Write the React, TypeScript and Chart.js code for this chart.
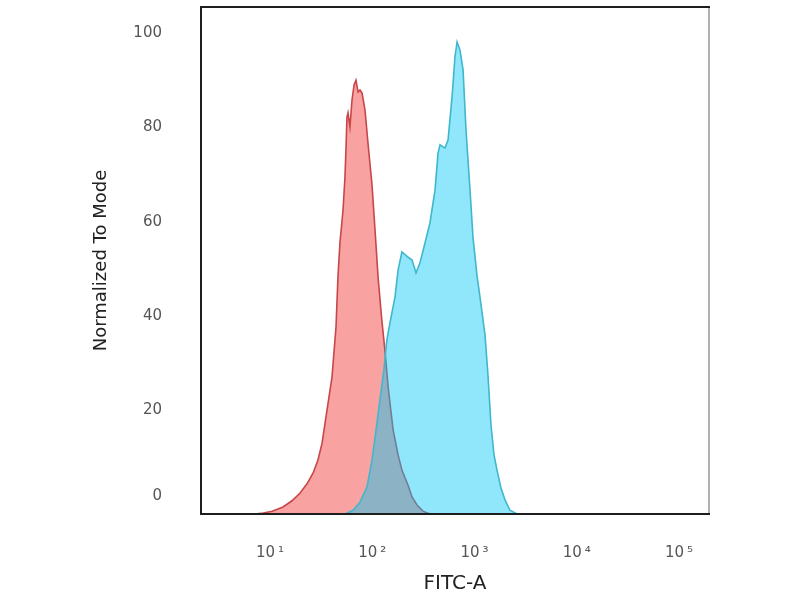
import { useEffect, useRef } from 'react'
import { Chart, registerables } from 'chart.js'

Chart.register(...registerables)

// FITC-A channel (log axis) and normalized-to-mode counts
const isotypeFitc = [7.1, 8.6, 10.5, 13.4, 16.4, 19.6, 23.0, 26.4, 29.4, 32.3, 36.1, 40.4, 44.2, 46.2, 48.3, 51.8, 54.1, 55.3, 56.6, 57.9, 60.5, 63.4, 66.4, 69.3, 72.6, 75.9, 79.4, 84.9, 90.8, 99.5, 106, 114, 124, 133, 143, 160, 179, 195, 224, 245, 274, 313, 367]
const isotypeCount = [0, 0.2, 0.6, 1.5, 2.8, 4.4, 6.4, 8.7, 11.4, 15.0, 22.0, 29.0, 39.6, 50.2, 57.4, 64.4, 71.4, 77.1, 84.1, 85.0, 82.0, 87.7, 90.9, 91.9, 89.4, 89.8, 89.2, 85.6, 78.6, 69.7, 60.8, 50.2, 41.1, 34.7, 26.9, 17.8, 12.5, 9.3, 6.1, 3.6, 1.9, 0.6, 0]

const stainedFitc = [54.1, 64.9, 75.9, 88.9, 99.5, 109, 119, 130, 139, 149, 167, 179, 195, 224, 245, 268, 293, 328, 367, 411, 440, 460, 514, 551, 603, 644, 675, 721, 773, 826, 904, 966, 1057, 1159, 1268, 1355, 1449, 1552, 1660, 1816, 1986, 2223, 2606]
const stainedCount = [0, 0.8, 2.5, 5.7, 11.4, 17.8, 24.2, 30.5, 36.9, 40.5, 46.0, 51.7, 55.5, 54.4, 53.8, 51.1, 53.2, 57.4, 61.7, 68.6, 76.5, 78.2, 77.5, 79.2, 88.3, 96.8, 100, 98.3, 94.1, 81.4, 68.6, 58.7, 50.6, 44.3, 37.9, 29.4, 18.9, 12.5, 9.3, 5.5, 3.0, 0.8, 0]

const xTickValues = [10, 100, 1000, 10000, 100000]
const xTickLabels = ['10\u2009¹', '10\u2009²', '10\u2009³', '10\u2009⁴', '10\u2009⁵']
const yTickValues = [0, 20, 40, 60, 80, 100]

const FONT = '"DejaVu Sans", sans-serif'

// box round the plot area: dark on three sides, light grey on the right
const framePlugin = {
  id: 'frame',
  afterDatasetsDraw(chart: Chart) {
    const { ctx, chartArea } = chart
    const { left, top, right, bottom } = chartArea
    ctx.save()
    ctx.lineWidth = 2
    ctx.strokeStyle = '#b0b0b0'
    ctx.beginPath()
    ctx.moveTo(right, top)
    ctx.lineTo(right, bottom)
    ctx.stroke()
    ctx.strokeStyle = '#1e1e1e'
    ctx.beginPath()
    ctx.moveTo(right + 1, top)
    ctx.lineTo(left, top)
    ctx.lineTo(left, bottom)
    ctx.lineTo(right + 1, bottom)
    ctx.stroke()
    ctx.restore()
  }
}

const App = () => {
  const canvasRef = useRef<HTMLCanvasElement>(null)

  useEffect(() => {
    if (!canvasRef.current) return

    const chart = new Chart(canvasRef.current, {
      type: 'line',
      data: {
        datasets: [
          {
            label: 'Stained',
            data: stainedFitc.map((x, i) => ({ x, y: stainedCount[i] })),
            borderColor: '#3fb7cd',
            backgroundColor: 'rgba(3, 198, 244, 0.44)',
            borderWidth: 1.6,
            pointRadius: 0,
            tension: 0,
            fill: 'origin'
          },
          {
            label: 'Isotype',
            data: isotypeFitc.map((x, i) => ({ x, y: isotypeCount[i] })),
            borderColor: '#c8464a',
            backgroundColor: '#f8a2a2',
            borderWidth: 1.6,
            pointRadius: 0,
            tension: 0,
            fill: 'origin'
          }
        ]
      },
      options: {
        responsive: false,
        animation: false,
        layout: { autoPadding: false, padding: { top: 7, right: 91, left: 0, bottom: 0 } },
        plugins: {
          legend: { display: false },
          tooltip: { enabled: false }
        },
        scales: {
          x: {
            type: 'logarithmic',
            min: 2.114,
            max: 196600,
            grid: { display: false },
            border: { display: false },
            afterBuildTicks: (scale) => {
              scale.ticks = xTickValues.map(value => ({ value }))
            },
            // fixed box so the plot area lands where the original's does
            afterFit: (scale) => {
              scale.height = 86
              scale.paddingLeft = 0
              scale.paddingRight = 0
            },
            ticks: {
              autoSkip: false,
              maxRotation: 0,
              padding: 22,
              color: '#555',
              font: { family: FONT, size: 15 },
              callback: (_value, index) => xTickLabels[index]
            },
            title: {
              display: true,
              text: 'FITC-A',
              color: '#222',
              font: { family: FONT, size: 20 },
              padding: { top: 0, bottom: 4 }
            }
          },
          y: {
            type: 'linear',
            min: 0,
            max: 107.4,
            grid: { display: false },
            border: { display: false },
            afterBuildTicks: (scale) => {
              scale.ticks = yTickValues.map(value => ({ value }))
            },
            afterFit: (scale) => {
              scale.width = 201
              scale.paddingTop = 0
              scale.paddingBottom = 0
            },
            ticks: {
              padding: 31,
              labelOffset: -9,
              color: '#555',
              font: { family: FONT, size: 15 },
              // the zero label sits a little higher than the others in the original
              callback: (value) => (value === 0 ? ['0', ''] : String(value))
            },
            title: {
              display: true,
              text: 'Normalized To Mode',
              color: '#222',
              font: { family: FONT, size: 18 },
              padding: { top: 91, bottom: 0 }
            }
          }
        }
      },
      plugins: [framePlugin]
    })

    return () => {
      chart.destroy()
    }
  }, [])

  return (
    <div style={{ position: 'absolute', left: 0, top: 0, width: 800, height: 600, background: '#fff' }}>
      <canvas ref={canvasRef} width={800} height={600} style={{ display: 'block' }}></canvas>
    </div>
  )
}

export default App
